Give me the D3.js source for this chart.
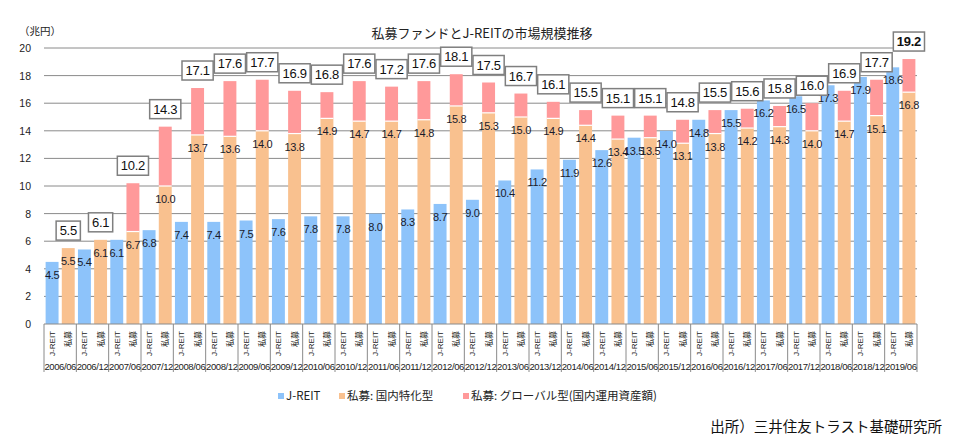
<!DOCTYPE html>
<html><head><meta charset="utf-8">
<script src="https://cdn.jsdelivr.net/npm/d3@7/dist/d3.min.js"></script>
<style>
html,body{margin:0;padding:0;background:#fff;}
svg{display:block;font-family:"Liberation Sans","Noto Sans CJK JP",sans-serif;}
</style></head>
<body><svg id="chart" width="960" height="445"></svg>
<script>
const periods = ["2006/06","2006/12","2007/06","2007/12","2008/06","2008/12","2009/06","2009/12","2010/06","2010/12","2011/06","2011/12","2012/06","2012/12","2013/06","2013/12","2014/06","2014/12","2015/06","2015/12","2016/06","2016/12","2017/06","2017/12","2018/06","2018/12","2019/06"];
const jreit = [4.5,5.4,6.1,6.8,7.4,7.4,7.5,7.6,7.8,7.8,8.0,8.3,8.7,9.0,10.4,11.2,11.9,12.6,13.5,14.0,14.8,15.5,16.2,16.5,17.3,17.9,18.6];
const domestic = [5.5,6.1,6.7,10.0,13.7,13.6,14.0,13.8,14.9,14.7,14.7,14.8,15.8,15.3,15.0,14.9,14.4,13.4,13.5,13.1,13.8,14.2,14.3,14.0,14.7,15.1,16.8];
const globalFund = [0,0,3.5,4.3,3.4,4.0,3.7,3.1,1.9,2.9,2.5,2.8,2.3,2.2,1.7,1.2,1.1,1.7,1.6,1.7,1.7,1.4,1.5,2.0,2.2,2.6,2.4];
const totals = [5.5,6.1,10.2,14.3,17.1,17.6,17.7,16.9,16.8,17.6,17.2,17.6,18.1,17.5,16.7,16.1,15.5,15.1,15.1,14.8,15.5,15.6,15.8,16.0,16.9,17.7,19.2];
const seriesKeys = ["J-REIT","私募"];
const yTicks = [0,2,4,6,8,10,12,14,16,18,20];
const legendLabels = ["J-REIT","私募: 国内特化型","私募: グローバル型(国内運用資産額)"];
const colors = ["#8dc3fa","#f9c18f","#ff999a"];
const titleText = "私募ファンドとJ-REITの市場規模推移";
const unitText = "（兆円）";
const sourceText = "出所）三井住友トラスト基礎研究所";

(function(){
const svg = d3.select("#chart");
const mLeft = 44, mRight = 917, mTop = 48, mBottom = 324;
const x0 = d3.scaleBand().domain(periods).range([mLeft, mRight]).padding(0);
const x1 = d3.scaleBand().domain(seriesKeys).range([0, x0.bandwidth()]).paddingInner(0.2).paddingOuter(0.1);
const y = d3.scaleLinear().domain([0, 20]).range([mBottom, mTop]);

svg.append("text").attr("x", 482).attr("y", 38).attr("text-anchor","middle")
  .style("font-size","13px").style("font-family","'Noto Sans CJK JP',sans-serif").attr("fill","#222").text(titleText);
svg.append("text").attr("x", 19).attr("y", 35)
  .style("font-size","10.5px").style("font-family","'Noto Sans CJK JP',sans-serif").attr("fill","#222").text(unitText);

svg.append("g").selectAll("line").data(yTicks.filter(d => d > 0)).join("line")
  .attr("x1", mLeft).attr("x2", mRight).attr("y1", d => y(d)).attr("y2", d => y(d))
  .attr("stroke","#8a8a8a").attr("stroke-width",1);

svg.append("g").selectAll("text").data(yTicks).join("text")
  .attr("x", 31).attr("y", d => y(d) + 4).attr("text-anchor","end")
  .style("font-size","10.5px").attr("fill","#222").text(d => d);

const g = svg.append("g");
periods.forEach((p, i) => {
  const xj = x0(p) + x1("J-REIT");
  const xs = x0(p) + x1("私募");
  const w = x1.bandwidth();
  g.append("rect").attr("x", xj).attr("y", y(jreit[i])).attr("width", w).attr("height", y(0) - y(jreit[i])).attr("fill", colors[0]);
  g.append("rect").attr("x", xs).attr("y", y(domestic[i])).attr("width", w).attr("height", y(0) - y(domestic[i])).attr("fill", colors[1]);
  if (globalFund[i] > 0) {
    const topV = domestic[i] + globalFund[i];
    g.append("rect").attr("x", xs).attr("y", y(topV)).attr("width", w).attr("height", y(domestic[i]) - y(topV)).attr("fill", colors[2]);
    g.append("line").attr("x1", xs).attr("x2", xs + w).attr("y1", y(domestic[i])).attr("y2", y(domestic[i]))
      .attr("stroke","#fff").attr("stroke-width",1.2);
  }
});

const lbl = svg.append("g").style("font-size","11px").style("letter-spacing","-0.3px").attr("fill","#1a1a2a").attr("text-anchor","middle");
periods.forEach((p, i) => {
  const xj = x0(p) + x1("J-REIT") + x1.bandwidth()/2;
  const xs = x0(p) + x1("私募") + x1.bandwidth()/2;
  lbl.append("text").attr("x", xj).attr("y", y(jreit[i]) + 17).text(jreit[i].toFixed(1));
  lbl.append("text").attr("x", xs).attr("y", y(domestic[i]) + 17).text(domestic[i].toFixed(1));
});

const boxes = svg.append("g");
periods.forEach((p, i) => {
  const xs = x0(p) + x1("私募") + x1.bandwidth()/2;
  const by = y(domestic[i] + globalFund[i]) - 8;
  const last = i === periods.length - 1;
  const grp = boxes.append("g");
  const rect = grp.append("rect");
  const t = grp.append("text").attr("x", xs).attr("y", by - 5).attr("text-anchor","middle")
    .style("font-size","13px").style("letter-spacing","-0.3px").style("font-weight", last ? "bold" : "normal").attr("fill","#111")
    .text(totals[i].toFixed(1));
  const bb = t.node().getBBox();
  rect.attr("x", xs - (bb.width + 7)/2).attr("y", by - 19).attr("width", bb.width + 7).attr("height", 19)
    .attr("fill","#fff").attr("stroke","#7f7f7f").attr("stroke-width",1.5);
});

const ax = svg.append("g");
ax.append("line").attr("x1", mLeft).attr("x2", mRight).attr("y1", mBottom).attr("y2", mBottom).attr("stroke","#8a8a8a");
const bounds = periods.map(p => x0(p)).concat([mRight]);
ax.selectAll("line.tk").data(bounds).join("line").attr("class","tk")
  .attr("x1", d => d).attr("x2", d => d).attr("y1", mBottom).attr("y2", 372).attr("stroke","#8a8a8a");
periods.forEach(p => {
  seriesKeys.forEach(k => {
    const cx = x0(p) + x1(k) + x1.bandwidth()/2;
    ax.append("text").attr("transform", `translate(${cx + 3},331) rotate(-90)`).attr("text-anchor","end")
      .style("font-size","8px").attr("fill","#222").text(k);
  });
  ax.append("text").attr("x", x0(p) + x0.bandwidth()/2).attr("y", 370).attr("text-anchor","middle")
    .style("font-size","9.5px").style("letter-spacing","-0.4px").attr("fill","#222").text(p);
});

const legX = [278, 339, 463];
legendLabels.forEach((t, i) => {
  svg.append("rect").attr("x", legX[i]).attr("y", 393).attr("width", 6).attr("height", 6).attr("fill", colors[i]);
  svg.append("text").attr("x", legX[i] + 8).attr("y", 400).style("font-size","11.5px")
    .style("font-family","'Noto Sans CJK JP',sans-serif").attr("fill","#222").text(t);
});

svg.append("text").attr("x", 942).attr("y", 432).attr("text-anchor","end")
  .style("font-size","14.5px").style("font-family","'Noto Sans CJK JP',sans-serif").attr("fill","#111").text(sourceText);
})();
</script></body></html>
